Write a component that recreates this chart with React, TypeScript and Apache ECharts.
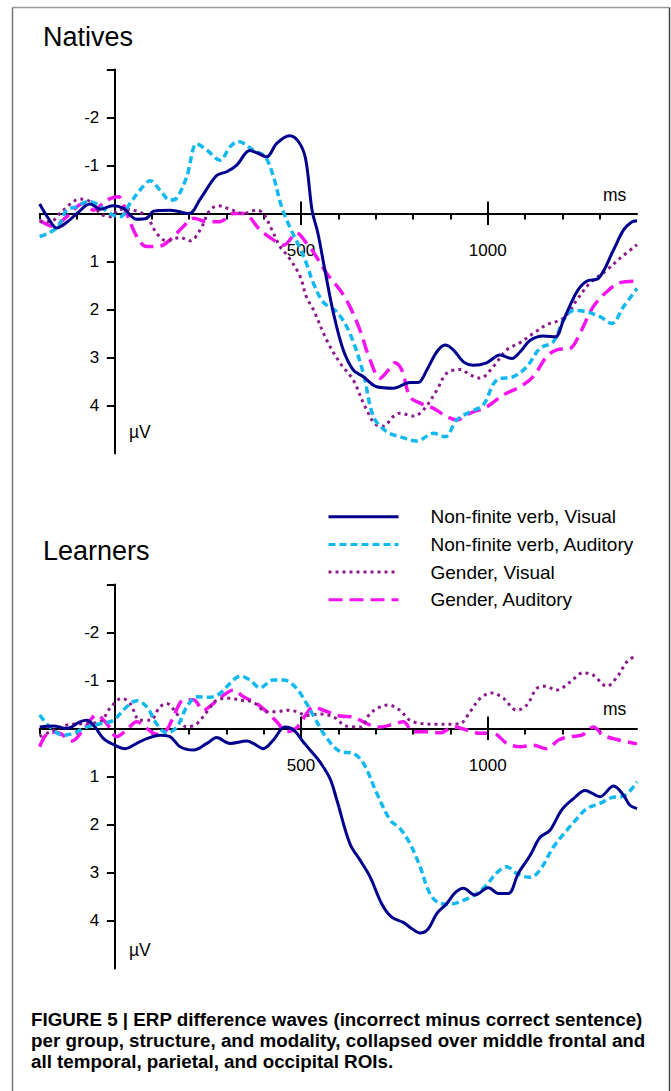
import React, { useEffect, useRef } from "react";
import * as echarts from "echarts";

// ---------- DATA ----------
const seriesNames = [
  "Non-finite verb, Visual",
  "Non-finite verb, Auditory",
  "Gender, Visual",
  "Gender, Auditory",
];
const panelTitles = ["Natives", "Learners"];

// Natives: [time (ms), amplitude (µV)]
const nativesVerbVisual: [number, number][] = [
  [-200, -0.2], [-175, 0.12], [-155, 0.3], [-130, 0.2], [-100, 0.0], [-65, -0.2], [-38, -0.09],
  [-5, -0.16], [24, -0.11], [60, 0.12], [87, 0.1], [105, -0.05], [150, -0.07], [200, 0.0],
  [230, -0.3], [274, -0.79], [301, -0.87], [328, -1.01], [363, -1.31], [386, -1.25], [408, -1.18],
  [435, -1.46], [469, -1.62], [493, -1.5], [512, -1.15], [530, -0.05], [545, 0.4], [564, 1.18],
  [587, 2.08], [613, 2.84], [640, 3.26], [667, 3.4], [703, 3.61], [747, 3.64], [792, 3.52],
  [814, 3.52], [837, 3.26], [864, 2.88], [886, 2.74], [908, 2.84], [935, 3.09], [962, 3.16],
  [997, 3.11], [1033, 2.95], [1065, 3.02], [1087, 2.88], [1114, 2.64], [1149, 2.55], [1181, 2.57],
  [1203, 2.22], [1239, 1.63], [1265, 1.41], [1297, 1.35], [1337, 0.76], [1364, 0.34], [1385, 0.18],
  [1400, 0.15],
];
const nativesVerbAuditory: [number, number][] = [
  [-200, 0.48], [-177, 0.41], [-150, 0.27], [-128, -0.07], [-101, -0.14], [-70, -0.25], [-43, -0.18],
  [-12, 0.0], [15, 0.07], [42, -0.21], [69, -0.49], [96, -0.68], [122, -0.49], [149, -0.28],
  [167, -0.32], [194, -0.77], [221, -1.45], [248, -1.32], [283, -1.11], [310, -1.39], [332, -1.5],
  [372, -1.32], [404, -1.18], [426, -0.77], [448, -0.14], [471, 0.3], [497, 0.72], [515, 1.05],
  [533, 1.45], [560, 1.85], [596, 2.05], [631, 2.5], [667, 3.33], [694, 4.23], [730, 4.55],
  [765, 4.65], [810, 4.74], [855, 4.58], [886, 4.65], [917, 4.3], [953, 4.13], [988, 3.99],
  [1024, 3.47], [1069, 3.4], [1105, 3.19], [1140, 2.81], [1176, 2.67], [1203, 2.22], [1230, 2.02],
  [1265, 2.05], [1301, 2.15], [1332, 2.29], [1364, 1.94], [1400, 1.56],
];
const nativesGenderVisual: [number, number][] = [
  [-200, 0.17], [-172, 0.17], [-137, -0.07], [-92, -0.3], [-65, -0.25], [-38, 0.0], [-12, 0.07],
  [15, -0.09], [51, -0.07], [87, 0.07], [113, 0.41], [140, 0.57], [176, 0.5], [203, 0.57],
  [230, 0.34], [256, -0.07], [279, -0.16], [310, -0.09], [346, 0.0], [381, -0.07], [399, 0.0],
  [422, 0.34], [444, 0.69], [466, 0.9], [497, 1.3], [515, 1.75], [533, 2.0], [569, 2.64],
  [605, 3.12], [640, 3.47], [672, 4.03], [703, 4.41], [721, 4.43], [747, 4.23], [765, 4.16],
  [801, 4.22], [828, 4.09], [864, 3.68], [890, 3.33], [926, 3.25], [953, 3.36], [980, 3.43],
  [1015, 3.19], [1051, 2.84], [1087, 2.69], [1122, 2.5], [1158, 2.32], [1203, 2.18], [1239, 1.8],
  [1274, 1.45], [1319, 1.18], [1355, 0.93], [1400, 0.65],
];
const nativesGenderAuditory: [number, number][] = [
  [-200, 0.14], [-163, 0.27], [-128, 0.07], [-83, -0.21], [-56, -0.07], [-20, -0.28], [11, -0.35],
  [33, 0.0], [60, 0.48], [87, 0.69], [122, 0.68], [149, 0.55], [185, 0.27], [212, 0.1],
  [248, 0.17], [283, 0.17], [319, 0.0], [346, 0.0], [390, 0.34], [426, 0.55], [453, 0.66],
  [489, 0.41], [515, 0.62], [533, 0.8], [569, 1.25], [605, 1.6], [631, 1.94], [658, 2.43],
  [685, 3.05], [712, 3.43], [730, 3.3], [752, 3.11], [770, 3.26], [792, 3.82], [819, 3.95],
  [855, 4.06], [890, 4.23], [917, 4.3], [953, 4.16], [997, 4.03], [1042, 3.78], [1087, 3.61],
  [1122, 3.4], [1158, 2.98], [1185, 2.84], [1221, 2.81], [1247, 2.5], [1283, 1.94], [1319, 1.63],
  [1355, 1.44], [1400, 1.41],
];

// Learners
const learnersVerbVisual: [number, number][] = [
  [-200, -0.03], [-163, -0.05], [-128, 0.0], [-92, -0.14], [-74, -0.17], [-52, -0.03], [-29, 0.21],
  [-3, 0.33], [29, 0.42], [60, 0.31], [87, 0.21], [122, 0.14], [149, 0.17], [176, 0.38],
  [212, 0.45], [248, 0.31], [274, 0.19], [310, 0.31], [355, 0.26], [372, 0.31], [399, 0.42],
  [426, 0.24], [457, -0.03], [480, 0.03], [506, 0.28], [530, 0.5], [551, 0.7], [578, 1.05],
  [596, 1.49], [631, 2.4], [658, 2.74], [685, 3.09], [716, 3.65], [743, 3.93], [774, 4.04],
  [797, 4.17], [819, 4.26], [841, 4.17], [864, 3.85], [890, 3.65], [913, 3.42], [935, 3.33],
  [966, 3.47], [1002, 3.32], [1029, 3.44], [1055, 3.44], [1082, 3.02], [1114, 2.64], [1140, 2.27],
  [1167, 2.12], [1198, 1.7], [1230, 1.46], [1261, 1.29], [1301, 1.42], [1337, 1.2], [1364, 1.39],
  [1381, 1.6], [1400, 1.67],
];
const learnersVerbAuditory: [number, number][] = [
  [-200, -0.28], [-172, -0.03], [-137, 0.14], [-110, 0.1], [-74, -0.03], [-38, -0.1], [-3, -0.17],
  [33, -0.45], [60, -0.58], [87, -0.45], [113, -0.1], [140, 0.09], [167, -0.03], [194, -0.45],
  [221, -0.66], [256, -0.65], [283, -0.73], [310, -0.94], [337, -1.09], [363, -1.01], [390, -0.85],
  [426, -1.01], [453, -1.01], [484, -0.87], [515, -0.52], [538, -0.2], [569, 0.2], [605, 0.48],
  [640, 0.52], [667, 0.72], [703, 1.35], [739, 1.91], [765, 2.08], [792, 2.4], [819, 2.88],
  [841, 3.37], [864, 3.61], [899, 3.66], [935, 3.58], [971, 3.44], [997, 3.26], [1024, 3.01],
  [1051, 2.88], [1078, 3.02], [1114, 3.1], [1140, 2.95], [1176, 2.47], [1212, 2.12], [1239, 1.88],
  [1265, 1.67], [1301, 1.56], [1332, 1.44], [1364, 1.41], [1400, 1.11],
];
const learnersGenderVisual: [number, number][] = [
  [-200, 0.17], [-172, 0.07], [-128, -0.07], [-83, -0.1], [-38, -0.14], [-12, -0.42], [20, -0.63],
  [42, -0.52], [69, -0.17], [96, -0.17], [122, -0.45], [140, -0.52], [167, -0.31], [194, -0.03],
  [221, -0.1], [248, -0.35], [274, -0.59], [310, -0.63], [337, -0.59], [372, -0.55], [408, -0.35],
  [435, -0.35], [462, -0.38], [489, -0.35], [515, -0.27], [551, -0.3], [587, -0.24], [622, -0.05],
  [658, -0.03], [685, -0.31], [712, -0.45], [734, -0.49], [765, -0.38], [792, -0.17], [828, -0.1],
  [864, -0.09], [899, -0.09], [926, -0.1], [953, -0.35], [980, -0.63], [1011, -0.74], [1042, -0.63],
  [1078, -0.38], [1105, -0.49], [1131, -0.83], [1154, -0.88], [1185, -0.8], [1221, -0.97],
  [1256, -1.16], [1283, -1.11], [1319, -0.88], [1350, -1.11], [1373, -1.39], [1400, -1.53],
];
const learnersGenderAuditory: [number, number][] = [
  [-200, 0.38], [-172, 0.07], [-145, 0.1], [-114, 0.26], [-83, 0.03], [-47, -0.28], [-20, -0.1],
  [6, 0.17], [33, 0.03], [60, -0.14], [87, 0.0], [113, 0.12], [140, 0.03], [158, -0.24],
  [185, -0.59], [212, -0.6], [238, -0.38], [265, -0.52], [292, -0.69], [319, -0.8], [346, -0.66],
  [381, -0.52], [408, -0.35], [435, -0.14], [462, 0.07], [489, -0.02], [515, -0.31], [533, -0.45],
  [560, -0.38], [605, -0.26], [640, -0.24], [676, -0.1], [712, -0.03], [747, -0.09], [774, -0.14],
  [801, 0.07], [837, 0.07], [872, 0.09], [908, -0.03], [944, 0.03], [980, 0.1], [1015, 0.1],
  [1051, 0.31], [1087, 0.38], [1122, 0.35], [1158, 0.42], [1190, 0.24], [1221, 0.17], [1252, 0.14],
  [1283, -0.03], [1310, 0.14], [1346, 0.23], [1400, 0.32],
];

const panels = [
  [nativesVerbVisual, nativesVerbAuditory, nativesGenderVisual, nativesGenderAuditory],
  [learnersVerbVisual, learnersVerbAuditory, learnersGenderVisual, learnersGenderAuditory],
];

const xMin = -200;
const xMax = 1400;
const yMin = -3;
const yMax = 5;
const xTickValues = [-200, -100, 0, 100, 200, 300, 400, 500, 600, 700, 800, 900, 1000, 1100, 1200, 1300];
const xLabelValues = [500, 1000];
const majorXTicks = [500, 1000];
const yTickValues = [-3, -2, -1, 0, 1, 2, 3, 4];
const yLabelValues = [-2, -1, 1, 2, 3, 4];

const captionLines = [
  "FIGURE 5 | ERP difference waves (incorrect minus correct sentence)",
  "per group, structure, and modality, collapsed over middle frontal and",
  "all temporal, parietal, and occipital ROIs.",
];

// ---------- STYLE ----------
const FONT = "'Liberation Sans', Arial, sans-serif";
const lineStyles = [
  { color: "#00008f", type: "solid" as any, width: 3, z: 5 },
  { color: "#12b8f0", type: [7, 4] as any, width: 3.5, z: 4 },
  { color: "#8b1a8b", type: [3, 4] as any, width: 3, z: 3 },
  { color: "#f514ef", type: [14, 7] as any, width: 3.5, z: 2 },
];
const gridTops = [69.5, 584.5];
const GRID_LEFT = 39.67;
const GRID_W = 597.33;
const GRID_H = 384;

export default function App() {
  const ref = useRef<HTMLDivElement>(null);
  useEffect(() => {
    document.body.style.margin = "0";
    if (!ref.current) return;
    const chart = echarts.init(ref.current, undefined, { renderer: "svg" });

    const grid = gridTops.map((top) => ({ left: GRID_LEFT, top, width: GRID_W, height: GRID_H, containLabel: false }));

    // axis crossing: x axis sits at µV = 0, y axis at t = 0
    const xAxisOffset = -(GRID_H * (yMax - 0)) / (yMax - yMin);
    const yAxisOffset = -(GRID_W * (0 - xMin)) / (xMax - xMin);

    const xAxis = gridTops.map((_, i) => ({
      type: "value",
      gridIndex: i,
      position: "bottom",
      offset: xAxisOffset,
      min: xMin,
      max: xMax,
      interval: 100,
      axisLine: { show: true, onZero: false, lineStyle: { color: "#000", width: 2 } },
      axisTick: { show: true, inside: false, length: 6, customValues: xTickValues, lineStyle: { color: "#000", width: 2 } },
      axisLabel: {
        show: true,
        customValues: xLabelValues,
        formatter: (v: number) => (xLabelValues.includes(v) ? String(v) : ""),
        margin: 28,
        color: "#000",
        fontSize: 17,
        fontFamily: FONT,
      },
      splitLine: { show: false },
    }));

    const yAxis = gridTops.map((_, i) => ({
      type: "value",
      gridIndex: i,
      position: "left",
      offset: yAxisOffset,
      min: yMin,
      max: yMax,
      interval: 1,
      inverse: true,
      axisLine: { show: true, onZero: false, lineStyle: { color: "#000", width: 2 } },
      axisTick: { show: true, inside: false, length: 7.5, customValues: yTickValues, lineStyle: { color: "#000", width: 2 } },
      axisLabel: {
        show: true,
        customValues: yLabelValues,
        formatter: (v: number) => (yLabelValues.includes(v) ? String(v) : ""),
        margin: 15,
        color: "#000",
        fontSize: 17,
        fontFamily: FONT,
      },
      splitLine: { show: false },
    }));

    const series: any[] = [];
    panels.forEach((panel, pi) => {
      panel.forEach((data, si) => {
        const st = lineStyles[si];
        series.push({
          type: "line",
          name: seriesNames[si],
          xAxisIndex: pi,
          yAxisIndex: pi,
          data,
          smooth: 0.35,
          symbol: "none",
          showSymbol: false,
          z: st.z,
          lineStyle: { color: st.color, type: st.type, width: st.width, cap: "butt" },
          itemStyle: { color: st.color },
          emphasis: { disabled: true },
          markLine:
            si === 0
              ? {
                  silent: true,
                  symbol: "none",
                  label: { show: false },
                  lineStyle: { color: "#000", width: 2, type: "solid" },
                  emphasis: { disabled: true },
                  data: majorXTicks.map((t) => [{ coord: [t, -0.25] }, { coord: [t, 0.24] }]),
                }
              : undefined,
        });
      });
    });

    const textEl = (text: string, x: number, y: number, fontSize: number, weight = "normal") => ({
      type: "text",
      x,
      y,
      silent: true,
      style: { text, fontSize, fontFamily: FONT, fontWeight: weight, fill: "#000", align: "left", verticalAlign: "middle" },
    });

    const graphic: any[] = [
      { type: "line", silent: true, shape: { x1: 12.5, y1: 7.5, x2: 669.5, y2: 7.5 }, style: { stroke: "#999", lineWidth: 1.5 } },
      { type: "line", silent: true, shape: { x1: 12.5, y1: 7.5, x2: 12.5, y2: 1100 }, style: { stroke: "#777", lineWidth: 1.5 } },
      { type: "line", silent: true, shape: { x1: 669.5, y1: 7.5, x2: 669.5, y2: 1100 }, style: { stroke: "#444", lineWidth: 1.5 } },
      textEl(panelTitles[0], 43, 36.5, 27),
      textEl(panelTitles[1], 43, 551, 27),
      textEl("ms", 603, 194.5, 17.5),
      textEl("ms", 603, 708.5, 17.5),
      textEl("µV", 129, 431.5, 17.5),
      textEl("µV", 129, 950, 17.5),
      ...captionLines.map((line, i) => textEl(line, 31, 1019 + i * 21, 18.8, "bold")),
    ];

    chart.setOption({
      animation: false,
      backgroundColor: "#fff",
      grid,
      xAxis,
      yAxis,
      series,
      legend: {
        show: true,
        data: seriesNames,
        orient: "vertical",
        left: 322,
        top: 501.7,
        itemWidth: 70,
        itemHeight: 20,
        itemGap: 7.7,
        selectedMode: false,
        textStyle: { fontSize: 19, fontFamily: FONT, color: "#000", padding: [0, 0, 0, 27], lineHeight: 20 },
        lineStyle: { width: 3 },
        itemStyle: { opacity: 0, borderWidth: 0 },
      },
      graphic,
    });

    return () => {
      chart.dispose();
    };
  }, []);

  return <div ref={ref} style={{ width: 671, height: 1091 }} />;
}
